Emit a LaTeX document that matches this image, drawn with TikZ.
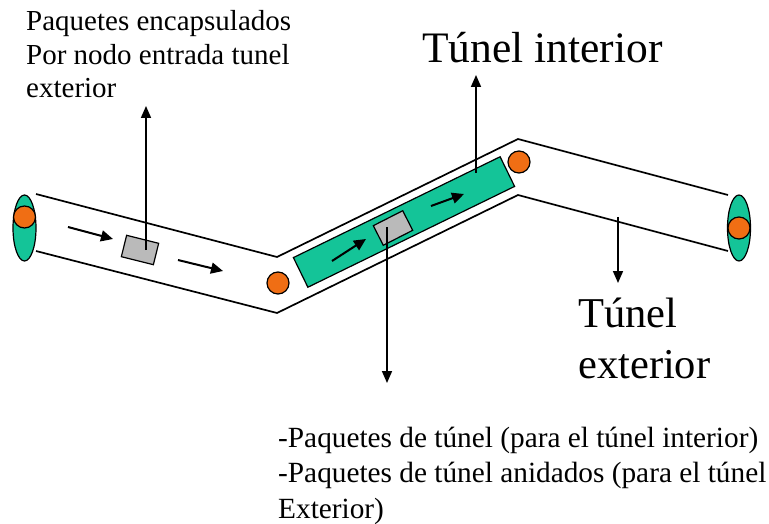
\documentclass[tikz,border=0pt]{standalone}
\usepackage{fontspec}
\setmainfont{Liberation Serif}
\usetikzlibrary{arrows.meta,shapes.geometric,positioning}
\definecolor{tunelverde}{RGB}{20,196,152}
\definecolor{nodonaranja}{RGB}{240,110,20}
\definecolor{paquetegris}{RGB}{186,186,186}

\begin{document}
\begin{tikzpicture}[x=1pt,y=-1pt,
    tubo/.style={line width=1.7pt},
    nodo/.style={circle,draw,line width=1.2pt,fill=nodonaranja,minimum size=22pt,inner sep=0pt},
    extremo/.style={ellipse,draw,line width=1.2pt,fill=tunelverde,minimum width=23pt,minimum height=66pt,inner sep=0pt},
    paquete/.style={rectangle,draw,line width=1.2pt,fill=paquetegris,minimum width=33pt,minimum height=22pt,inner sep=0pt},
    flujo/.style={line width=2pt,-{Triangle[length=12pt,width=11pt]}},
    senal/.style={line width=1.7pt,-{Triangle[length=12pt,width=10pt]}},
    rotulo/.style={inner sep=0pt,align=left,anchor=base west}]
        \useasboundingbox (0,0) rectangle (769,524);
        % Outer tunnel walls
        \draw[tubo] (36,194) -- (277,257) -- (518,139) -- (728,195);
        \draw[tubo] (36,251) -- (277,313) -- (518,195) -- (728,251);
        % Inner tunnel
        \node[rectangle,draw,line width=1.2pt,fill=tunelverde,minimum width=230pt,minimum height=33pt,inner sep=0pt,rotate=26] (interior) at (404,222) {};
        % Packets
        \node[paquete,rotate=-14] (pq1) at (140,250) {};
        \node[paquete,rotate=27] (pq2) at (393,228) {};
        % Tunnel ends and nodes
        \node[extremo] (ext1) at (24.5,228) {};
        \node[extremo] (ext2) at (739,228) {};
        \node[nodo] (n1) at (24.5,217) {};
        \node[nodo] (n2) at (278,283) {};
        \node[nodo] (n3) at (519,162) {};
        \node[nodo] (n4) at (739,228) {};
        % Flow arrows
        \foreach \xa/\ya/\xb/\yb in {68/227/113/239, 178/260/223/271, 332/261/366/239, 431/206/464/194}
            \draw[flujo] (\xa,\ya) -- (\xb,\yb);
        % Pointer arrows
        \coordinate (s1) at (146,250);
        \coordinate (t1) at (146,106);
        \coordinate (s2) at (476,173);
        \coordinate (t2) at (476,75);
        \coordinate (s3) at (387,227);
        \coordinate (t3) at (387,383);
        \coordinate (s4) at (618,217);
        \coordinate (t4) at (618,283);
        \draw[senal] (s1) -- (t1);
        \draw[senal] (s2) -- (t2);
        \draw[senal] (s3) -- (t3);
        \draw[senal] (s4) -- (t4);
        % Labels (base = last line)
        \node[rotulo,font=\fontsize{29}{33.5}\selectfont] (encaps) at (26,98) {Paquetes encapsulados\\Por nodo entrada tunel\\exterior};
        \node[rotulo,font=\fontsize{43.5}{52}\selectfont] (tint) at (422,63) {Túnel interior};
        \node[rotulo,font=\fontsize{42.5}{51}\selectfont] (text) at (578,378) {Túnel\\exterior};
        \node[rotulo,font=\fontsize{29.3}{35.5}\selectfont] (anid) at (278,518) {-Paquetes de túnel (para el túnel interior)\\-Paquetes de túnel anidados (para el túnel\\Exterior)};
    \end{tikzpicture}
\end{document}
